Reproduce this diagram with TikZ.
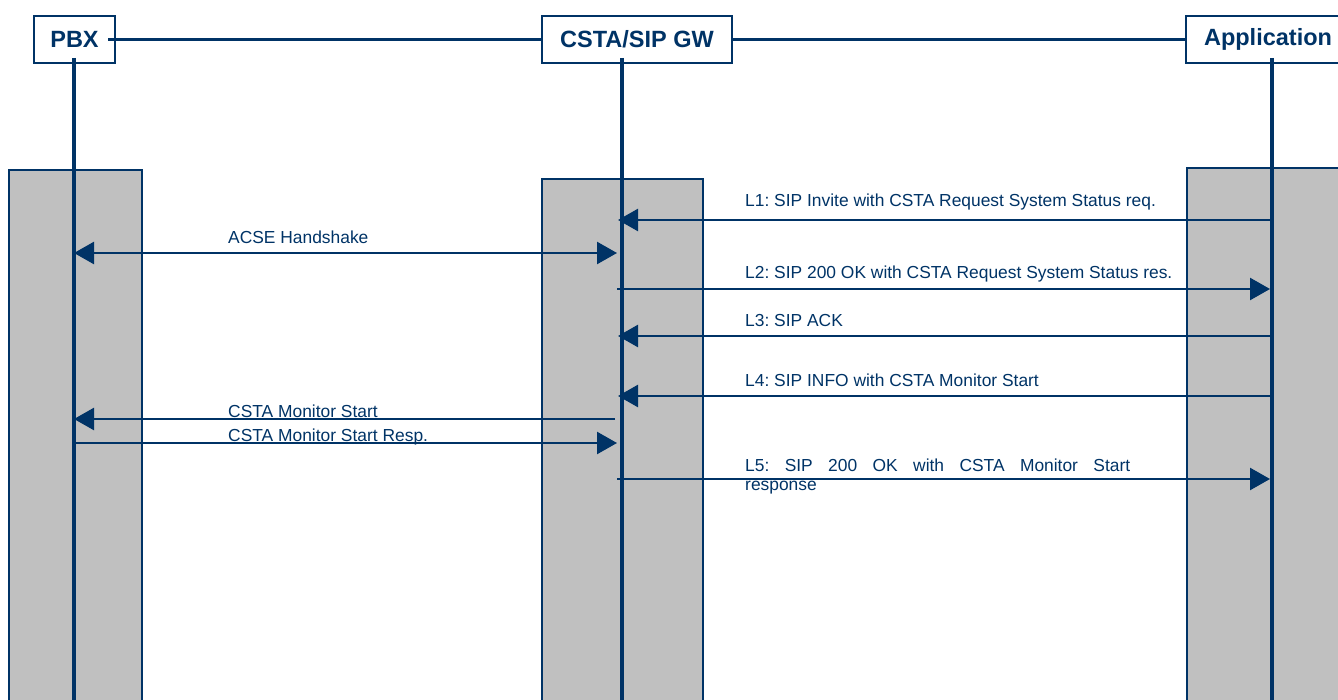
\documentclass[tikz,border=0pt]{standalone}
\usepackage{fontspec}
\setmainfont{Liberation Sans}
\frenchspacing
\usetikzlibrary{arrows.meta}
\definecolor{csblue}{HTML}{003366}
\definecolor{actgray}{HTML}{C0C0C0}
\tikzset{
    entity/.style={draw=csblue, line width=2pt, fill=white, minimum height=47pt,
        inner sep=0pt, text=csblue, font=\fontsize{23.5}{28}\selectfont\bfseries},
    lifeline/.style={draw=csblue, line width=3.5pt},
    actbox/.style={draw=csblue, line width=2pt, fill=actgray},
    msg/.style={draw=csblue, line width=2.5pt},
    msglabel/.style={anchor=base west, text=csblue, inner sep=0pt,
        font=\fontsize{17.4}{16}\selectfont},
    >={Triangle[length=20pt, width=22pt]},
}

\begin{document}
\begin{tikzpicture}[x=1pt, y=-1pt]
    \clip (0,0) rectangle (1338,700);
    \path[actbox] (9,170) rectangle (142,710);
    \path[actbox] (542,179) rectangle (703,710);
    \path[actbox] (1187,168) rectangle (1360,710);

    \node[entity, minimum width=81pt] (pbx) at (74.5,39.5) {PBX};
    \node[entity, minimum width=164pt] (app) at (1268,39.5) {Application};
    \node[entity, minimum width=190pt] (gw) at (637,39.5) {CSTA/SIP GW};

    \draw[msg, shorten <=-8pt] (pbx.east) -- (gw.west);
    \draw[msg] (gw.east) -- (app.west);

    \coordinate (pbxl) at (74,58);
    \coordinate (gwl) at (622,58);
    \coordinate (appl) at (1272,58);
    \draw[lifeline] (pbxl) -- (pbxl |- 0,700);
    \draw[lifeline] (gwl) -- (gwl |- 0,700);
    \draw[lifeline] (appl) -- (appl |- 0,700);

    \draw[msg, ->, shorten >=-4pt] (appl |- 0,220) -- (gwl |- 0,220);
    \node[msglabel] (l1) at (745,207) {L1: SIP Invite with CSTA Request System Status req.};

    \draw[msg, <->, shorten >=5pt] (pbxl |- 0,253) -- (gwl |- 0,253);
    \node[msglabel] (acse) at (228,244) {ACSE Handshake};

    \draw[msg, ->, shorten <=-5pt, shorten >=2pt] (gwl |- 0,289) -- (appl |- 0,289);
    \node[msglabel] (l2) at (745,279) {L2: SIP 200 OK with CSTA Request System Status res.};

    \draw[msg, ->, shorten >=-4pt] (appl |- 0,336) -- (gwl |- 0,336);
    \node[msglabel] (l3) at (745,327) {L3: SIP ACK};

    \draw[msg, ->, shorten >=-4pt] (appl |- 0,396) -- (gwl |- 0,396);
    \node[msglabel] (l4) at (745,386) {L4: SIP INFO with CSTA Monitor Start};

    \draw[msg, ->, shorten <=7pt] (gwl |- 0,419) -- (pbxl |- 0,419);
    \node[msglabel] (mon) at (228,417) {CSTA Monitor Start};

    \draw[msg, ->, shorten >=5pt, shorten <=-2pt] (pbxl |- 0,443) -- (gwl |- 0,443);
    \node[msglabel] (monres) at (228,441) {CSTA Monitor Start Resp.};

    \draw[msg, ->, shorten <=-5pt, shorten >=2pt] (gwl |- 0,479) -- (appl |- 0,479);
    \node[msglabel] (l5) at (745,471)
        {\makebox[385pt][s]{L5: SIP 200 OK with CSTA Monitor Start}};
    \node[msglabel] (l5b) at (745,490) {response};
\end{tikzpicture}
\end{document}
